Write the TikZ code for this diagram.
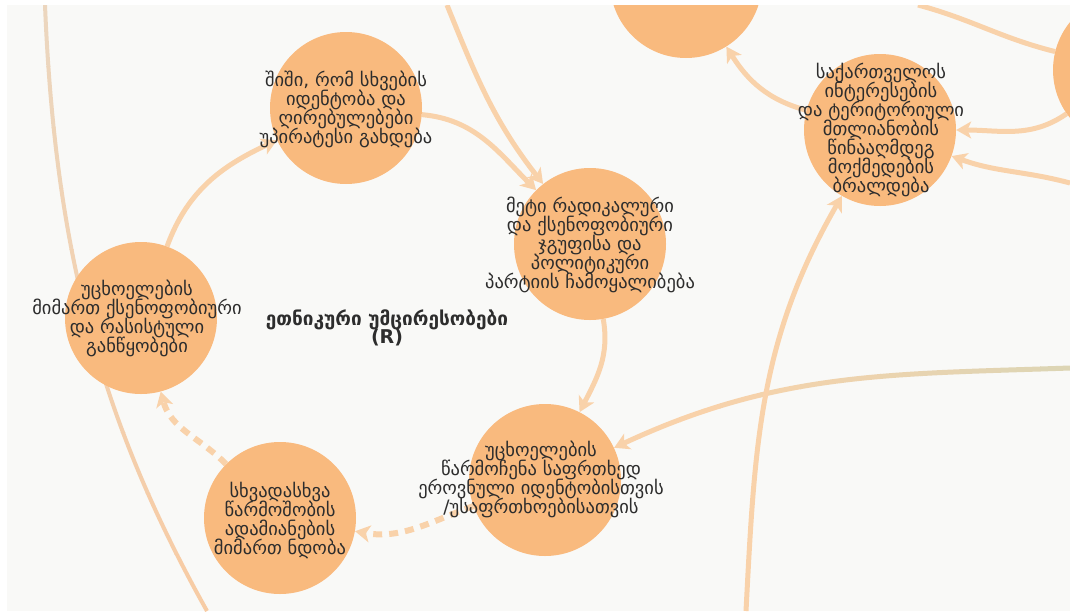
\documentclass[tikz,border=0pt]{standalone}
\usepackage{fontspec}
\newfontfamily\geo{DejaVu Sans}
\usetikzlibrary{arrows.meta}
\newcommand\mytight{\lineskiplimit=-30pt\relax\lineskip=0pt\relax}
\definecolor{bgc}{RGB}{249,249,247}
\definecolor{nodec}{RGB}{249,186,126}
\definecolor{edgec}{RGB}{249,210,170}
\definecolor{edgeT}{RGB}{221,213,180}
\definecolor{arcT}{RGB}{236,214,190}
\definecolor{arcB}{RGB}{247,204,165}
\definecolor{txtc}{RGB}{45,45,45}
\pgfdeclarelayer{bgzero}
\pgfdeclarelayer{edges}
\pgfdeclarelayer{fg}
\pgfsetlayers{bgzero,edges,main,fg}
\begin{document}
\begin{tikzpicture}[x=1pt,y=-1pt,
  circ/.style={circle,fill=nodec,draw=none,minimum size=152pt,inner sep=0pt},
  txt/.style={font=\geo\fontsize{18.5}{19}\selectfont\mytight,text=txtc,align=center,inner sep=0pt},
  conn/.style={draw=edgec,line width=5pt,-{Stealth[length=15pt,width=17pt,inset=4pt]}},
  dashconn/.style={conn,line width=6pt,dash pattern=on 9pt off 7pt},
  plain/.style={draw=edgec,line width=5pt}]
\useasboundingbox (0,0) rectangle (1070,611);
\begin{pgfonlayer}{bgzero}
\fill[white] (0,0) rectangle (1070,611);
\fill[bgc] (7,5) rectangle (1070,611);
\end{pgfonlayer}

% nodes
\node[circ] (n1) at (346,108) {};
\node[txt] (l1) at (346,109) {შიში, რომ სხვების\\იდენტობა და\\ღირებულებები\\უპირატესი გახდება};
\node[circ] (n2) at (590,244) {};
\node[txt] (l2) at (590,245) {მეტი რადიკალური\\და ქსენოფობიური\\ჯგუფისა და\\პოლიტიკური\\პარტიის ჩამოყალიბება};
\node[circ] (n3) at (141,318) {};
\node[txt] (l3) at (137,318) {უცხოელების\\მიმართ ქსენოფობიური\\და რასისტული\\განწყობები};
\node[circ] (n4) at (545,480) {};
\node[txt] (l4) at (541,479) {უცხოელების\\წარმოჩენა საფრთხედ\\ეროვნული იდენტობისთვის\\/უსაფრთხოებისათვის};
\node[circ] (n5) at (280,518) {};
\node[txt] (l5) at (280,520) {სხვადასხვა\\წარმოშობის\\ადამიანების\\მიმართ ნდობა};
\node[circ] (n6) at (880,130) {};
\node[txt] (l6) at (881,130) {საქართველოს\\ინტერესების\\და ტერიტორიული\\მთლიანობის\\წინააღმდეგ\\მოქმედების\\ბრალდება};
\node[circ] (n7) at (686,-18) {};
\node[circ] (n8) at (1129,70) {};
\node[font=\geo\bfseries\fontsize{19}{18}\selectfont\mytight,text=txtc,align=center,inner sep=0pt] (loop) at (387,328) {ეთნიკური უმცირესობები\\(R)};

\coordinate (t0) at (45,5);
\coordinate (b0) at (207,611);
\coordinate (t1) at (447,5);
\coordinate (t2) at (918,5);
\coordinate (r1) at (1070,368);
\coordinate (r2) at (1070,183);
\coordinate (b1) at (746,611);

\begin{pgfonlayer}{edges}
% big left arc with colour gradient
\foreach \i in {0,...,9}{
  \pgfmathsetmacro\ya{5+61*\i}
  \pgfmathsetmacro\yb{\ya+61.5}
  \pgfmathtruncatemacro\p{100-11*\i}
  \begin{scope}
    \clip (0,\ya) rectangle (1070,\yb);
    \draw[draw=arcT!\p!arcB,line width=4pt] (t0) .. controls (55,250) and (100,420) .. (b0);
  \end{scope}
}
% long edge from the right with colour gradient
\foreach \i in {0,...,11}{
  \pgfmathsetmacro\xa{600+40*\i}
  \pgfmathsetmacro\xb{\xa+40.5}
  \pgfmathtruncatemacro\p{min(100,max(0,(\i-2)*11))}
  \begin{scope}
    \clip (\xa,0) rectangle (\xb,611);
    \draw[conn,draw=edgeT!\p!edgec] (r1) to[out=182,in=25] (n4);
  \end{scope}
}
\draw[conn] (n3) to[out=70,in=205] (n1);
\draw[conn] (n1) to[out=-5,in=135] (n2);
\draw[conn] (t1) to[out=-68,in=128] (n2);
\draw[conn] (n2) to[out=-80,in=63] (n4);
\draw[dashconn] (n4) to[out=200,in=-10] (n5);
\draw[dashconn] (n5) to[out=135,in=-75] (n3);
\draw[conn] (n6) to[out=165,in=-58] (n7);
\draw[conn] (n8) to[out=215,in=0] (n6);
\draw[conn] (r2) to[out=165,in=-20] (n6);
\draw[plain] (t2) to[out=-15,in=166] (n8);
\draw[conn] (b1) to[out=87,in=240] (n6);
\end{pgfonlayer}

\begin{pgfonlayer}{fg}
\fill[white] (0,0) rectangle (1070,5);
\fill[white] (0,0) rectangle (7,611);
\end{pgfonlayer}
\end{tikzpicture}
\end{document}
